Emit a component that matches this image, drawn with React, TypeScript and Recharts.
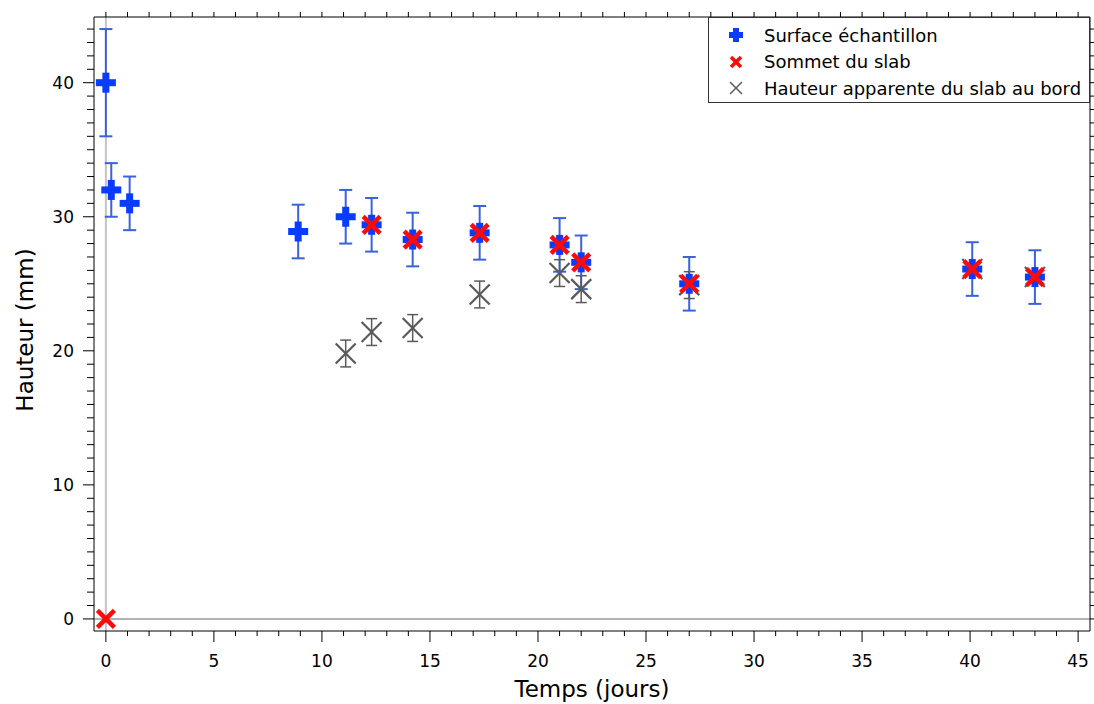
import React from 'react';
import { ScatterChart, Scatter, XAxis, YAxis, ErrorBar, ReferenceLine } from 'recharts';

const surfX = [0, 0.25, 1.1, 8.9, 11.1, 12.3, 14.2, 17.3, 21, 22, 27, 40.1, 43];
const surfY = [40, 32, 31, 28.9, 30, 29.4, 28.3, 28.8, 27.9, 26.6, 25, 26.1, 25.5];
const surfErr = [4, 2, 2, 2, 2, 2, 2, 2, 2, 2, 2, 2, 2];

const sommetX = [0, 12.3, 14.2, 17.3, 21, 22, 27, 40.1, 43];
const sommetY = [0, 29.4, 28.3, 28.8, 27.9, 26.6, 25, 26.1, 25.5];

const bordX = [11.1, 12.3, 14.2, 17.3, 21, 22, 27, 40.1, 43];
const bordY = [19.8, 21.4, 21.7, 24.2, 25.8, 24.6, 24.9, 26.1, 25.5];
const bordErr = [1, 1, 1, 1, 1, 1, 1, 0, 0];

const xTicks = Array.from({ length: 46 }, (_, i) => i);
const yTicks = Array.from({ length: 45 }, (_, i) => i);

const seriesNames = ['Surface échantillon', 'Sommet du slab', 'Hauteur apparente du slab au bord'];

const surfData = surfX.map((x, i) => ({ x, y: surfY[i], err: surfErr[i] }));
const sommetData = sommetX.map((x, i) => ({ x, y: sommetY[i] }));
const bordData = bordX.map((x, i) => ({ x, y: bordY[i], err: bordErr[i] }));

const FONT = '"DejaVu Sans", sans-serif';
const BLUE = '#0a3cff';
const BLUE_ERR = '#3a62dc';
const RED = '#ff0a0a';
const GRAY = '#5a5a5a';

const PlusShape = (props: any) => {
  const { cx, cy } = props;
  if (cx == null || cy == null) return null;
  const s = 10, t = 3.5;
  return (
    <g>
      <rect x={cx - s} y={cy - t} width={2 * s} height={2 * t} fill={BLUE} />
      <rect x={cx - t} y={cy - s} width={2 * t} height={2 * s} fill={BLUE} />
    </g>
  );
};

const RedX = (props: any) => {
  const { cx, cy } = props;
  if (cx == null || cy == null) return null;
  const s = 8.5;
  return (
    <g stroke={RED} strokeWidth={4.5} strokeLinecap="butt">
      <line x1={cx - s} y1={cy - s} x2={cx + s} y2={cy + s} />
      <line x1={cx - s} y1={cy + s} x2={cx + s} y2={cy - s} />
    </g>
  );
};

const GrayX = (props: any) => {
  const { cx, cy } = props;
  if (cx == null || cy == null) return null;
  const s = 10;
  return (
    <g stroke={GRAY} strokeWidth={2.2}>
      <line x1={cx - s} y1={cy - s} x2={cx + s} y2={cy + s} />
      <line x1={cx - s} y1={cy + s} x2={cx + s} y2={cy - s} />
    </g>
  );
};

const BottomTick = (props: any) => {
  const { x, y, payload } = props;
  const major = payload.value % 5 === 0;
  return (
    <g>
      <line x1={x} x2={x} y1={y} y2={y + (major ? 11 : 5)} stroke="#000" strokeWidth={1} />
      {major && (
        <text x={x} y={y + 36} textAnchor="middle" fontSize={17} fontFamily={FONT} fill="#000">
          {payload.value}
        </text>
      )}
    </g>
  );
};

const TopTick = (props: any) => {
  const { x, y } = props;
  return <line x1={x} x2={x} y1={y} y2={y - 5} stroke="#000" strokeWidth={1} />;
};

const LeftTick = (props: any) => {
  const { x, y, payload } = props;
  const major = payload.value % 10 === 0;
  return (
    <g>
      <line x1={x} x2={x - (major ? 11 : 7)} y1={y} y2={y} stroke="#000" strokeWidth={1} />
      {major && (
        <text x={x - 20} y={y + 6} textAnchor="end" fontSize={17} fontFamily={FONT} fill="#000">
          {payload.value}
        </text>
      )}
    </g>
  );
};

const RightTick = (props: any) => {
  const { x, y } = props;
  return <line x1={x} x2={x + 4} y1={y} y2={y} stroke="#000" strokeWidth={1} />;
};

const legendIcon = (i: number) => {
  if (i === 0)
    return (
      <svg width={20} height={20}>
        <rect x={3} y={7} width={14} height={6} fill={BLUE} />
        <rect x={7} y={3} width={6} height={14} fill={BLUE} />
      </svg>
    );
  if (i === 1)
    return (
      <svg width={20} height={20}>
        <g stroke={RED} strokeWidth={3.5}>
          <line x1={5} y1={5} x2={15} y2={15} />
          <line x1={5} y1={15} x2={15} y2={5} />
        </g>
      </svg>
    );
  return (
    <svg width={20} height={20}>
      <g stroke={GRAY} strokeWidth={1.5}>
        <line x1={4} y1={4} x2={16} y2={16} />
        <line x1={4} y1={16} x2={16} y2={4} />
      </g>
    </svg>
  );
};

export default function App() {
  return (
    <div style={{ position: 'absolute', left: 0, top: 0, width: 1094, height: 704, background: '#fff' }}>
      <ScatterChart width={1094} height={704} margin={{ top: 0, right: 0, bottom: 0, left: 0 }}>
        <XAxis
          type="number"
          dataKey="x"
          domain={[-0.55, 45.55]}
          ticks={xTicks}
          interval={0}
          tickSize={0}
          tickMargin={0}
          tickLine={false}
          tick={<BottomTick />}
          height={73}
          axisLine={{ stroke: '#000', strokeWidth: 1 }}
          allowDataOverflow
        />
        <XAxis
          xAxisId="top"
          orientation="top"
          type="number"
          dataKey="x"
          domain={[-0.55, 45.55]}
          ticks={xTicks}
          interval={0}
          tickSize={0}
          tickMargin={0}
          tickLine={false}
          tick={<TopTick />}
          height={17}
          axisLine={{ stroke: '#000', strokeWidth: 1 }}
          allowDataOverflow
        />
        <YAxis
          type="number"
          dataKey="y"
          domain={[-0.9, 44.9]}
          ticks={yTicks}
          interval={0}
          tickSize={0}
          tickMargin={0}
          tickLine={false}
          tick={<LeftTick />}
          width={94}
          axisLine={{ stroke: '#000', strokeWidth: 1 }}
          allowDataOverflow
        />
        <YAxis
          yAxisId="right"
          orientation="right"
          type="number"
          dataKey="y"
          domain={[-0.9, 44.9]}
          ticks={yTicks}
          interval={0}
          tickSize={0}
          tickMargin={0}
          tickLine={false}
          tick={<RightTick />}
          width={4}
          axisLine={{ stroke: '#000', strokeWidth: 1 }}
          allowDataOverflow
        />
        <ReferenceLine x={0} stroke="#c4c4c4" strokeWidth={2} />
        <ReferenceLine y={0} stroke="#999" strokeWidth={1.5} />
        <Scatter name={seriesNames[0]} data={surfData} shape={<PlusShape />} isAnimationActive={false}>
          <ErrorBar dataKey="err" direction="y" width={6.5} stroke={BLUE_ERR} strokeWidth={2} isAnimationActive={false} />
        </Scatter>
        <Scatter name={seriesNames[2]} data={bordData} shape={<GrayX />} isAnimationActive={false}>
          <ErrorBar dataKey="err" direction="y" width={5.5} stroke={GRAY} strokeWidth={1.5} isAnimationActive={false} />
        </Scatter>
        <Scatter name={seriesNames[1]} data={sommetData} shape={<RedX />} isAnimationActive={false} />
      </ScatterChart>
      <div
        style={{
          position: 'absolute',
          left: 708,
          top: 17,
          width: 382,
          height: 86,
          border: '1px solid #333',
          background: '#fff',
          fontFamily: FONT,
          fontSize: 18,
          color: '#000',
          boxSizing: 'border-box',
          paddingTop: 4,
        }}
      >
        {seriesNames.map((n, i) => (
          <div key={n} style={{ display: 'flex', alignItems: 'center', height: 26.5 }}>
            <div style={{ width: 20, marginLeft: 17, marginRight: 18, display: 'flex', justifyContent: 'center' }}>
              {legendIcon(i)}
            </div>
            <span style={{ whiteSpace: 'nowrap' }}>{n}</span>
          </div>
        ))}
      </div>
      <svg
        width={1094}
        height={704}
        style={{ position: 'absolute', left: 0, top: 0, pointerEvents: 'none' }}
      >
        <text x={592} y={697} textAnchor="middle" fontSize={23} fontFamily={FONT} fill="#000">
          Temps (jours)
        </text>
        <text
          x={33}
          y={330}
          textAnchor="middle"
          fontSize={23}
          fontFamily={FONT}
          fill="#000"
          transform="rotate(-90 33 330)"
        >
          Hauteur (mm)
        </text>
      </svg>
    </div>
  );
}
